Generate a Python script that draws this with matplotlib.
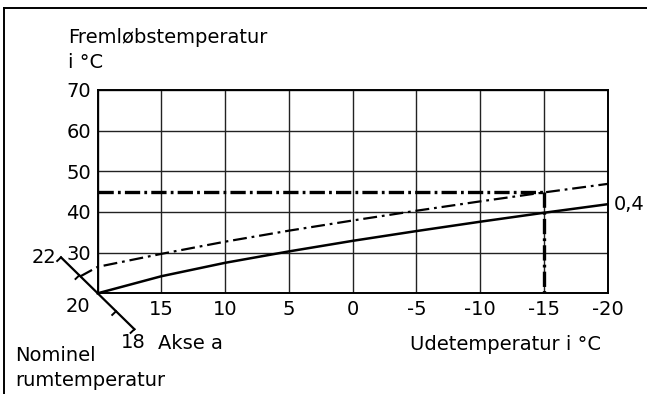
import numpy as np
import matplotlib
matplotlib.use("Agg")
import matplotlib.pyplot as plt
from matplotlib.lines import Line2D

plt.rcParams['font.family'] = ['DejaVu Sans']
plt.rcParams['font.size'] = 14
plt.rcParams['lines.scale_dashes'] = False

# Outdoor temperature (x) and flow temperature (y) for heating curve 0,4
outdoor = [20, 15, 10, 5, 0, -5, -10, -15, -20]
flow_20 = [20.0, 24.2, 27.5, 30.3, 32.9, 35.3, 37.6, 39.8, 41.9]

# Same curve shifted for a higher nominal room temperature
outdoor_shift = [21.4, 20, 15, 10, 5, 0, -5, -10, -15, -20]
flow_shift = [24.1, 26.5, 29.7, 32.7, 35.4, 37.9, 40.3, 42.6, 44.8, 46.9]

# Design point
design_outdoor = -15
design_flow = 45

x_ticks = [15, 10, 5, 0, -5, -10, -15, -20]
x_labels = ["15", "10", "5", "0", "-5", "-10", "-15", "-20"]
y_ticks = [30, 40, 50, 60, 70]
y_labels = ["30", "40", "50", "60", "70"]

# Nominal room temperature scale ("Akse a"), drawn diagonally
room_temps = [22, 21, 20, 19, 18]
room_dx = 1.44   # x data units per degree along the diagonal
room_dy = 4.42   # y data units per degree along the diagonal

fig = plt.figure(figsize=(6.47, 3.94), dpi=100)
ax = fig.add_axes([0.151, 0.2556, 0.788, 0.516])

ax.set_xlim(20, -20)
ax.set_ylim(20, 70)
ax.set_xticks([20] + x_ticks)
ax.set_xticklabels([""] + x_labels)
ax.set_yticks([20] + y_ticks)
ax.set_yticklabels([""] + y_labels)
ax.tick_params(length=0, pad=5, labelsize=14)
ax.grid(True, color="#222222", linewidth=1.0)
for sp in ax.spines.values():
    sp.set_linewidth(1.4)
    sp.set_color("black")

ax.plot(outdoor, flow_20, color="black", linewidth=1.8, clip_on=False)
ax.plot(outdoor_shift, flow_shift, color="black", linewidth=1.6,
        dashes=(10, 3.5, 2, 3.5), clip_on=False)

thick = dict(color="black", linewidth=2.4, dashes=(11, 3, 2, 3))
ax.plot([20, design_outdoor], [design_flow, design_flow], **thick)
ax.plot([design_outdoor, design_outdoor], [design_flow, 20], **thick)

# Diagonal room temperature axis
rx = [20 + (r - 20) * room_dx for r in room_temps]
ry = [20 + (r - 20) * room_dy for r in room_temps]
ax.plot([rx[0], rx[-1]], [ry[0], ry[-1]], color="black", linewidth=1.6,
        clip_on=False)
tick_x = 0.3
tick_y = -0.9
for i, (px, py) in enumerate(zip(rx, ry)):
    if room_temps[i] == 20:
        continue
    ax.plot([px, px + tick_x], [py, py + tick_y], color="black",
            linewidth=1.4, clip_on=False)

ax.text(rx[0] + 0.35, ry[0], "22", ha="right", va="center")
ax.text(20.6, 16.8, "20", ha="right", va="center")
ax.text(rx[-1] + 0.1, ry[-1] - 0.9, "18", ha="center", va="top")
ax.text(15.3, 7.6, "Akse a", ha="left", va="center")
ax.text(-20.5, flow_20[-1], "0,4", ha="left", va="center")

fig.text(68 / 647, 1 - 43 / 394, "Fremløbstemperatur", ha="left",
         va="baseline")
fig.text(68 / 647, 1 - 68 / 394, "i °C", ha="left", va="baseline")
fig.text(410 / 647, 1 - 350 / 394, "Udetemperatur i °C", ha="left",
         va="baseline")
fig.text(15 / 647, 1 - 361 / 394, "Nominel", ha="left", va="baseline")
fig.text(15 / 647, 1 - 386 / 394, "rumtemperatur", ha="left", va="baseline")

# Open frame: top and left edges only
fig.add_artist(Line2D([4 / 647, 1], [1 - 8 / 394, 1 - 8 / 394],
                      color="black", linewidth=1.4))
fig.add_artist(Line2D([4 / 647, 4 / 647], [0, 1 - 8 / 394],
                      color="black", linewidth=1.4))

fig.savefig("out.png", dpi=100)
